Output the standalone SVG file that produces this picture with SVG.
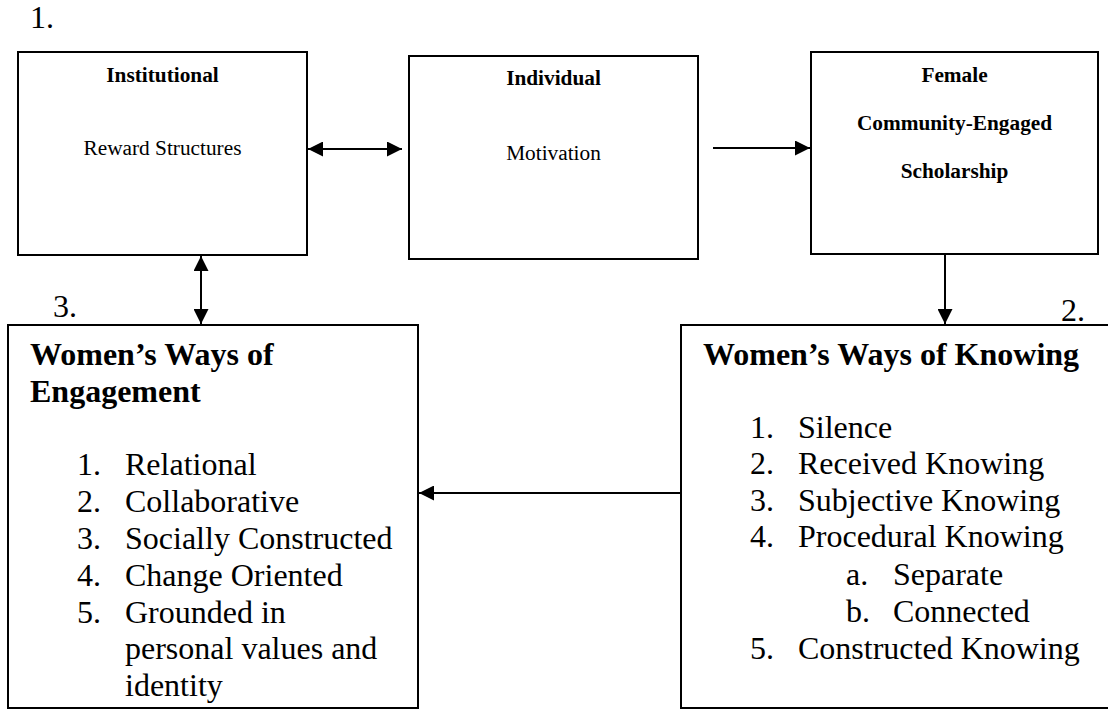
<svg xmlns="http://www.w3.org/2000/svg" width="1108" height="710" viewBox="0 0 1108 710">
<style>
text{font-family:'Liberation Serif',Tinos,'Times New Roman',Times,serif;fill:#000}
.box{fill:#fff;stroke:#000;stroke-width:2}
.s{font-size:21.3px}
.b{font-weight:bold}
.l{font-size:32px}
.c{text-anchor:middle}
.con{stroke:#000;stroke-width:2;fill:none}
</style>
<defs>
<marker id="ah" markerUnits="userSpaceOnUse" markerWidth="15" markerHeight="15" refX="15" refY="7.5" orient="auto-start-reverse" viewBox="0 0 15 15">
<path d="M0,0 L15,7.5 L0,15 z" fill="#000"/>
</marker>
</defs>
<rect width="1108" height="710" fill="#fff"/>
<text class="l" x="30" y="28">1.</text>
<text class="l" x="53" y="317">3.</text>
<text class="l" x="1061" y="321">2.</text>
<g id="institutional">
<rect class="box" x="18" y="52" width="289" height="203"/>
<text class="s b c" x="162.5" y="82">Institutional</text>
<text class="s c" x="162.5" y="155">Reward Structures</text>
</g>
<g id="individual">
<rect class="box" x="409" y="56" width="289" height="203"/>
<text class="s b c" x="553.5" y="85">Individual</text>
<text class="s c" x="553.5" y="160">Motivation</text>
</g>
<g id="female">
<rect class="box" x="811" y="52" width="287" height="202"/>
<text class="s b c" x="954.5" y="82">Female</text>
<text class="s b c" x="954.5" y="130">Community-Engaged</text>
<text class="s b c" x="954.5" y="178">Scholarship</text>
</g>
<g id="engagement">
<rect class="box" x="8" y="325" width="410" height="383"/>
<text class="l b" x="30" y="365">Women’s Ways of</text>
<text class="l b" x="30" y="402">Engagement</text>
<text class="l" x="77" y="475">1.</text><text class="l" x="125" y="475">Relational</text>
<text class="l" x="77" y="512">2.</text><text class="l" x="125" y="512">Collaborative</text>
<text class="l" x="77" y="549">3.</text><text class="l" x="125" y="549">Socially Constructed</text>
<text class="l" x="77" y="586">4.</text><text class="l" x="125" y="586">Change Oriented</text>
<text class="l" x="77" y="623">5.</text><text class="l" x="125" y="623">Grounded in</text>
<text class="l" x="125" y="659">personal values and</text>
<text class="l" x="125" y="696">identity</text>
</g>
<g id="knowing">
<rect class="box" x="681" y="325" width="440" height="383"/>
<text class="l b" x="703" y="365">Women’s Ways of Knowing</text>
<text class="l" x="750" y="438">1.</text><text class="l" x="798" y="438">Silence</text>
<text class="l" x="750" y="474">2.</text><text class="l" x="798" y="474">Received Knowing</text>
<text class="l" x="750" y="511">3.</text><text class="l" x="798" y="511">Subjective Knowing</text>
<text class="l" x="750" y="547">4.</text><text class="l" x="798" y="547">Procedural Knowing</text>
<text class="l" x="846" y="585">a.</text><text class="l" x="893" y="585">Separate</text>
<text class="l" x="846" y="622">b.</text><text class="l" x="893" y="622">Connected</text>
<text class="l" x="750" y="659">5.</text><text class="l" x="798" y="659">Constructed Knowing</text>
</g>
<g id="connectors">
<line class="con" x1="308" y1="149" x2="402" y2="149" marker-start="url(#ah)" marker-end="url(#ah)"/>
<line class="con" x1="713" y1="148" x2="810" y2="148" marker-end="url(#ah)"/>
<line class="con" x1="945" y1="255" x2="945" y2="324" marker-end="url(#ah)"/>
<line class="con" x1="201" y1="256" x2="201" y2="324" marker-start="url(#ah)" marker-end="url(#ah)"/>
<line class="con" x1="680" y1="493" x2="419" y2="493" marker-end="url(#ah)"/>
</g>
</svg>
